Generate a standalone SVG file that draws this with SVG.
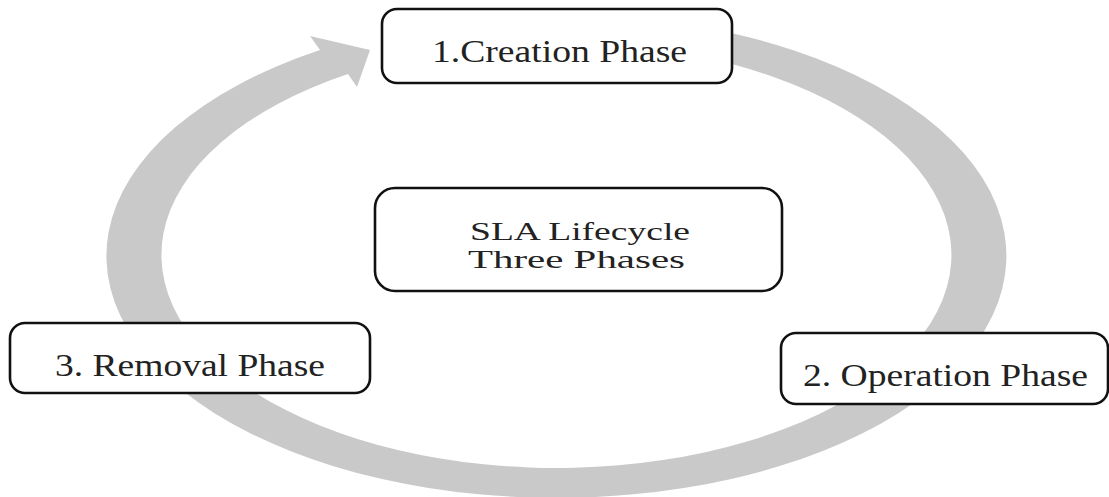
<svg xmlns="http://www.w3.org/2000/svg" width="1109" height="497" viewBox="0 0 1109 497">
<style>
.box{fill:#ffffff;stroke:#111111;stroke-width:2.6}
.lbl{font-family:"Liberation Serif","Times New Roman",serif;font-size:32px;fill:#222222}
.ctr{font-family:"Liberation Serif","Times New Roman",serif;font-size:25px;fill:#222222}
.ring{fill:#c9c9c9;stroke:none}
</style>
<rect width="1109" height="497" fill="#ffffff"/>
<g id="connectors">
<path class="ring" d="M 650 19.2 A 450 242 0 1 1 320 50 L 310 36 L 370 50 L 357 87 L 348 74 A 395 213 0 1 0 650 48 Z"/>
</g>
<g id="node-creation">
<rect class="box" x="382" y="9" width="350" height="74" rx="15"/>
<text class="lbl" x="432" y="62" textLength="255" lengthAdjust="spacingAndGlyphs">1.Creation Phase</text>
</g>
<g id="node-center">
<rect class="box" x="375" y="188" width="407" height="103" rx="20"/>
<text class="ctr" x="470" y="240" textLength="220" lengthAdjust="spacingAndGlyphs">SLA Lifecycle</text>
<text class="ctr" x="468" y="268" textLength="217" lengthAdjust="spacingAndGlyphs">Three Phases</text>
</g>
<g id="node-removal">
<rect class="box" x="10" y="323" width="360" height="70" rx="15"/>
<text class="lbl" x="55" y="376" textLength="270" lengthAdjust="spacingAndGlyphs">3. Removal Phase</text>
</g>
<g id="node-operation">
<rect class="box" x="781" y="333" width="327" height="71" rx="15"/>
<text class="lbl" x="803" y="386" textLength="285" lengthAdjust="spacingAndGlyphs">2. Operation Phase</text>
</g>
</svg>
